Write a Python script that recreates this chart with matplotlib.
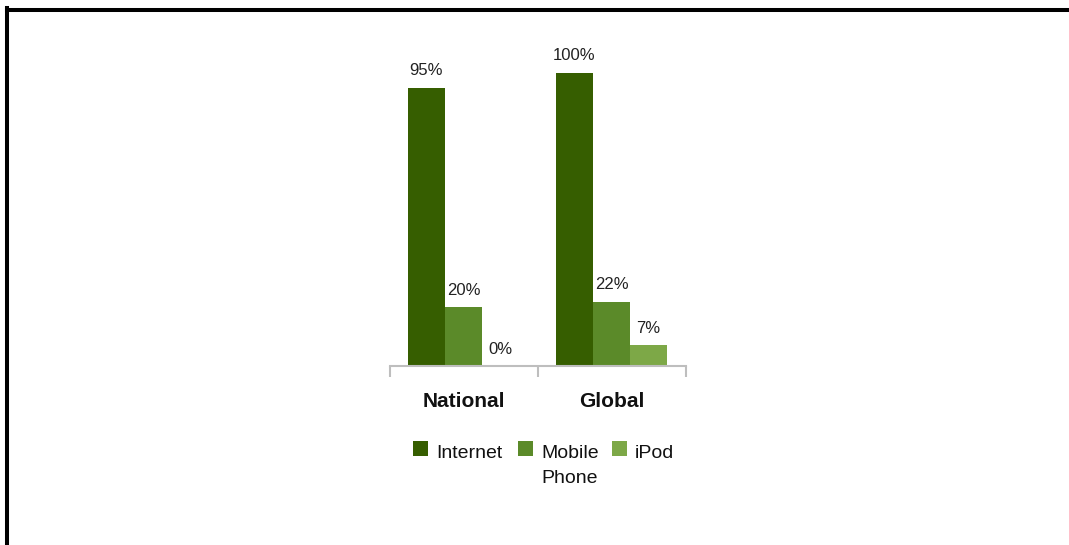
import numpy as np
import matplotlib
matplotlib.use("Agg")
import matplotlib.pyplot as plt
from matplotlib.lines import Line2D
from matplotlib.patches import Rectangle

plt.rcParams['font.family'] = ['Liberation Sans', 'DejaVu Sans']

# data
regions = ['National', 'Global']
series = ['Internet', 'Mobile Phone', 'iPod']
legend_labels = ['Internet', 'Mobile\nPhone', 'iPod']
internet = [95, 100]
mobile = [20, 22]
ipod = [0, 7]

colors = ['#365E00', '#5B8A29', '#7DA847']

W, H = 1069, 545
fig = plt.figure(figsize=(W / 100.0, H / 100.0), dpi=100)
ax = fig.add_axes((389.5 / W, 179.0 / H, 296.0 / W, 293.0 / H))

x = np.arange(len(regions))
width = 0.25
for i, vals in enumerate([internet, mobile, ipod]):
    pos = x + (i - 1) * width
    ax.bar(pos, vals, width, color=colors[i], zorder=2)
    for px_, v in zip(pos, vals):
        ax.annotate('%d%%' % v, (px_, v), xytext=(0, 9), textcoords='offset points',
                    ha='center', va='baseline', fontsize=12, color='#222222')

ax.set_xlim(-0.5, len(regions) - 0.5)
ax.set_ylim(0, 100)

for s in ['left', 'right', 'top']:
    ax.spines[s].set_visible(False)
ax.spines['bottom'].set_color('#BEBEBE')
ax.spines['bottom'].set_linewidth(1.5)
ax.spines['bottom'].set_zorder(3)

ax.set_yticks([])
ax.set_xticks(x)
ax.set_xticklabels(regions, fontsize=15, fontweight='bold', color='#111111')
ax.tick_params(axis='x', which='major', length=0, pad=19)
ax.set_xticks(np.arange(len(regions) + 1) - 0.5, minor=True)
ax.tick_params(axis='x', which='minor', length=8, width=1.5, color='#BEBEBE', direction='out')

# legend, laid out in pixels below the axis
def px(xp, yp):
    return xp / float(W), 1.0 - yp / float(H)

leg_x = [413, 518, 612]
for lx, lab, c in zip(leg_x, legend_labels, colors):
    fx, fy = px(lx, 456)
    fig.patches.append(Rectangle((fx, fy), 15.0 / W, 15.0 / H, transform=fig.transFigure,
                                 facecolor=c, edgecolor='none'))
    tx, ty = px(lx + 23, 445)
    fig.text(tx, ty, lab, fontsize=14, color='#111111', va='top', ha='left',
             linespacing=1.6)

# frame lines along the top and left edge
fig.add_artist(Line2D([7.0 / W, 7.0 / W], [0, 1 - 8.0 / H], transform=fig.transFigure,
                      color='black', linewidth=2.9, solid_capstyle='projecting'))
fig.add_artist(Line2D([7.0 / W, 1], [1 - 10.0 / H, 1 - 10.0 / H], transform=fig.transFigure,
                      color='black', linewidth=2.9, solid_capstyle='projecting'))

fig.savefig('out.png', dpi=100)
